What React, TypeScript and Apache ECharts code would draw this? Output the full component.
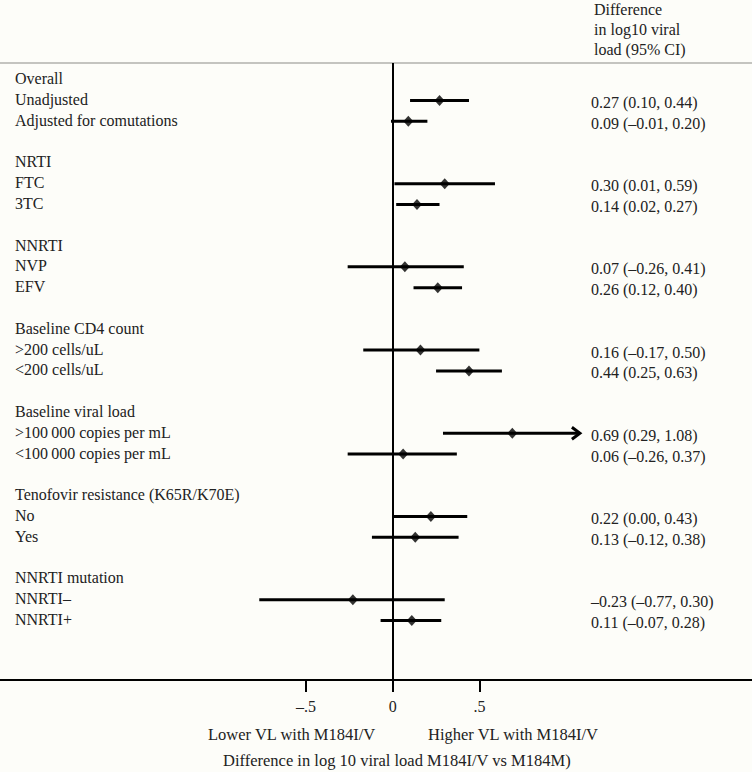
import React, { useEffect, useRef } from "react";
import * as echarts from "echarts";

const rowLabels = [
  "Overall", "Unadjusted", "Adjusted for comutations", "",
  "NRTI", "FTC", "3TC", "",
  "NNRTI", "NVP", "EFV", "",
  "Baseline CD4 count", ">200 cells/uL", "<200 cells/uL", "",
  "Baseline viral load", ">100\u2009000 copies per mL", "<100\u2009000 copies per mL", "",
  "Tenofovir resistance (K65R/K70E)", "No", "Yes", "",
  "NNRTI mutation", "NNRTI\u2013", "NNRTI+",
];
const estRows = [1, 2, 5, 6, 9, 10, 13, 14, 17, 18, 21, 22, 25, 26];
const estimates = [0.27, 0.09, 0.30, 0.14, 0.07, 0.26, 0.16, 0.44, 0.69, 0.06, 0.22, 0.13, -0.23, 0.11];
const lower = [0.10, -0.01, 0.01, 0.02, -0.26, 0.12, -0.17, 0.25, 0.29, -0.26, 0.00, -0.12, -0.77, -0.07];
const upper = [0.44, 0.20, 0.59, 0.27, 0.41, 0.40, 0.50, 0.63, 1.08, 0.37, 0.43, 0.38, 0.30, 0.28];
const arrowFlags = [0, 0, 0, 0, 0, 0, 0, 0, 1, 0, 0, 0, 0, 0];
const xTicks = [-0.5, 0, 0.5];
const xTickLabels = ["\u2013.5", "0", ".5"];

const FONT = '"Liberation Serif", "Times New Roman", serif';
const TXT = "#222";

const fmt = (v: number) => (v < 0 ? "\u2013" + Math.abs(v).toFixed(2) : v.toFixed(2));

export default function App() {
  const ref = useRef<HTMLDivElement>(null);
  useEffect(() => {
    if (!ref.current) return;
    const chart = echarts.init(ref.current, null, { renderer: "svg" });
    const labeledRows = rowLabels.map((l, i) => (l ? i : -1)).filter((i) => i >= 0);
    const rightText: Record<number, string> = {};
    estRows.forEach((r, i) => {
      rightText[r] = `${fmt(estimates[i])} (${fmt(lower[i])}, ${fmt(upper[i])})`;
    });
    const yBase = {
      type: "value" as const,
      inverse: true,
      min: -0.8,
      max: 28.86,
      splitLine: { show: false },
      axisTick: { show: false },
      axisLine: { show: false, onZero: false },
    };
    const xBase = {
      type: "value" as const,
      min: -2.266,
      max: 2.073,
      splitLine: { show: false },
    };
    chart.setOption({
      animation: false,
      backgroundColor: "#fdfdf9",
      textStyle: { fontFamily: FONT },
      title: {
        text: "Difference\nin log10 viral\nload (95% CI)",
        left: 594,
        top: -1,
        padding: 0,
        textStyle: { fontFamily: FONT, fontSize: 16, fontWeight: "normal", color: TXT, lineHeight: 20 },
      },
      grid: { left: 0, width: 752, top: 63, height: 617, containLabel: false },
      xAxis: [
        {
          ...xBase,
          position: "bottom",
          axisLine: { show: true, onZero: false, lineStyle: { color: "#000", width: 2 } },
          axisTick: { show: true, customValues: xTicks, length: 12, lineStyle: { color: "#000", width: 2 } },
          axisLabel: {
            show: true,
            customValues: xTicks,
            margin: 18,
            formatter: (v: number) => xTickLabels[xTicks.indexOf(v)] ?? "",
            fontFamily: FONT,
            fontSize: 16,
            color: TXT,
          },
        },
        {
          ...xBase,
          position: "top",
          axisLine: { show: true, onZero: false, lineStyle: { color: "#c4c4c0", width: 2 } },
          axisTick: { show: false },
          axisLabel: { show: false },
        },
      ],
      yAxis: [
        {
          ...yBase,
          position: "left",
          axisLabel: {
            show: true,
            inside: true,
            margin: 15,
            customValues: labeledRows,
            formatter: (v: number) => rowLabels[v] ?? "",
            fontFamily: FONT,
            fontSize: 16,
            color: TXT,
            verticalAlign: "bottom",
            lineHeight: 16,
            padding: [0, 0, -7, 0],
          },
        },
        {
          ...yBase,
          position: "right",
          offset: -161,
          axisLabel: {
            show: true,
            inside: false,
            margin: 0,
            customValues: estRows,
            formatter: (v: number) => rightText[v] ?? "",
            fontFamily: FONT,
            fontSize: 16,
            color: TXT,
            align: "left",
            verticalAlign: "bottom",
            lineHeight: 16,
            padding: [0, 0, -10, 0],
          },
        },
      ],
      series: [
        {
          type: "custom",
          xAxisIndex: 0,
          yAxisIndex: 0,
          data: estRows.map((r, i) => [r, lower[i], upper[i], arrowFlags[i]]),
          encode: { x: [1, 2], y: 0 },
          renderItem: (params: any, api: any) => {
            const row = api.value(0);
            const p1 = api.coord([api.value(1), row]);
            const p2 = api.coord([api.value(2), row]);
            const children: any[] = [
              {
                type: "line",
                shape: { x1: p1[0], y1: p1[1], x2: p2[0], y2: p2[1] },
                style: { stroke: "#000", lineWidth: 3 },
              },
            ];
            if (api.value(3)) {
              children.push({
                type: "polyline",
                shape: { points: [[p2[0] - 8, p2[1] - 6], [p2[0], p2[1]], [p2[0] - 8, p2[1] + 6]] },
                style: { stroke: "#000", lineWidth: 3, fill: "none" },
              });
            }
            return { type: "group", children };
          },
          markLine: {
            silent: true,
            symbol: "none",
            label: { show: false },
            lineStyle: { color: "#000", width: 2, type: "solid" },
            data: [{ xAxis: 0 }],
          },
          z: 2,
        },
        {
          type: "scatter",
          xAxisIndex: 0,
          yAxisIndex: 0,
          symbol: "diamond",
          symbolSize: [10, 11],
          itemStyle: { color: "#000" },
          data: estRows.map((r, i) => [estimates[i], r]),
          z: 3,
        },
      ],
      graphic: [
        {
          type: "text",
          left: 208,
          top: 726,
          style: { text: "Lower VL with M184I/V", font: `16.5px ${FONT}`, fill: TXT },
        },
        {
          type: "text",
          left: 428,
          top: 726,
          style: { text: "Higher VL with M184I/V", font: `16.5px ${FONT}`, fill: TXT },
        },
        {
          type: "text",
          left: 223,
          top: 752,
          style: { text: "Difference in log 10 viral load M184I/V vs M184M)", font: `16.5px ${FONT}`, fill: TXT },
        },
      ],
    });
    return () => chart.dispose();
  }, []);
  return (
    <div
      ref={ref}
      style={{ position: "absolute", left: 0, top: 0, width: 752, height: 772 }}
    />
  );
}
